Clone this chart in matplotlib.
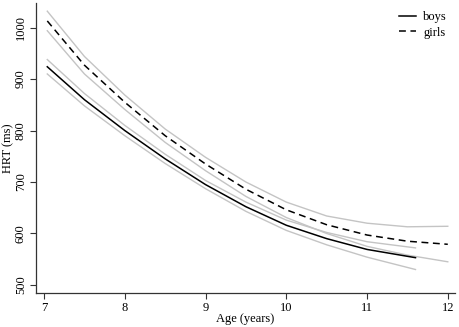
import matplotlib
matplotlib.use("Agg")
import matplotlib.pyplot as plt

# Data
ages_boys = [7.04, 7.5, 8, 8.5, 9, 9.5, 10, 10.5, 11, 11.6]
boys = [924, 860, 800, 745, 695, 652, 616, 590, 569, 553]
boys_hi = [938, 872, 810, 754, 703, 661, 626, 602, 584, 572]
boys_lo = [910, 848, 790, 736, 687, 643, 606, 578, 554, 530]

ages_girls = [7.04, 7.5, 8, 8.5, 9, 9.5, 10, 10.5, 11, 11.5, 12]
girls = [1013, 927, 855, 790, 735, 686, 646, 617, 597, 585, 579]
girls_hi = [1032, 944, 869, 803, 748, 700, 661, 634, 620, 613, 614]
girls_lo = [994, 910, 841, 777, 722, 672, 631, 600, 575, 558, 545]

xticks = [7, 8, 9, 10, 11, 12]
yticks = [500, 600, 700, 800, 900, 1000]

plt.rcParams['font.family'] = ['Liberation Serif', 'DejaVu Serif']

fig = plt.figure(figsize=(4.59, 3.27), dpi=100)
ax = fig.add_axes([0.0784, 0.105, 0.913, 0.886])

band = '#c4c4c4'
for lo, hi, xs in [(boys_lo, boys_hi, ages_boys), (girls_lo, girls_hi, ages_girls)]:
    ax.plot(xs, lo, color=band, lw=1.0)
    ax.plot(xs, hi, color=band, lw=1.0)

ax.plot(ages_boys, boys, color='black', lw=1.1, label='boys')
ax.plot(ages_girls, girls, color='black', lw=1.1, ls=(0, (4.5, 3)), label='girls')

ax.set_xlim(6.9, 12.09)
ax.set_ylim(485, 1048)
ax.set_xticks(xticks)
ax.set_yticks(yticks)
ax.set_yticklabels([str(v) for v in yticks], rotation=90, va='center')
ax.tick_params(axis='both', labelsize=9, length=4, width=0.8, color='#333333', pad=3)
ax.tick_params(axis='y', pad=2.5)
for s in ['top', 'right']:
    ax.spines[s].set_visible(False)
for s in ['left', 'bottom']:
    ax.spines[s].set_linewidth(0.9)
    ax.spines[s].set_color('#333333')

ax.set_xlabel('Age (years)', fontsize=9, labelpad=-1)
ax.set_ylabel('HRT (ms)', fontsize=9, labelpad=0.5)

ax.legend(loc='upper left', bbox_to_anchor=(0.866, 0.972), frameon=False, fontsize=9,
          handlelength=1.35, handletextpad=0.6, labelspacing=0.3, borderaxespad=0,
          borderpad=0)

fig.savefig('out.png', dpi=100)
